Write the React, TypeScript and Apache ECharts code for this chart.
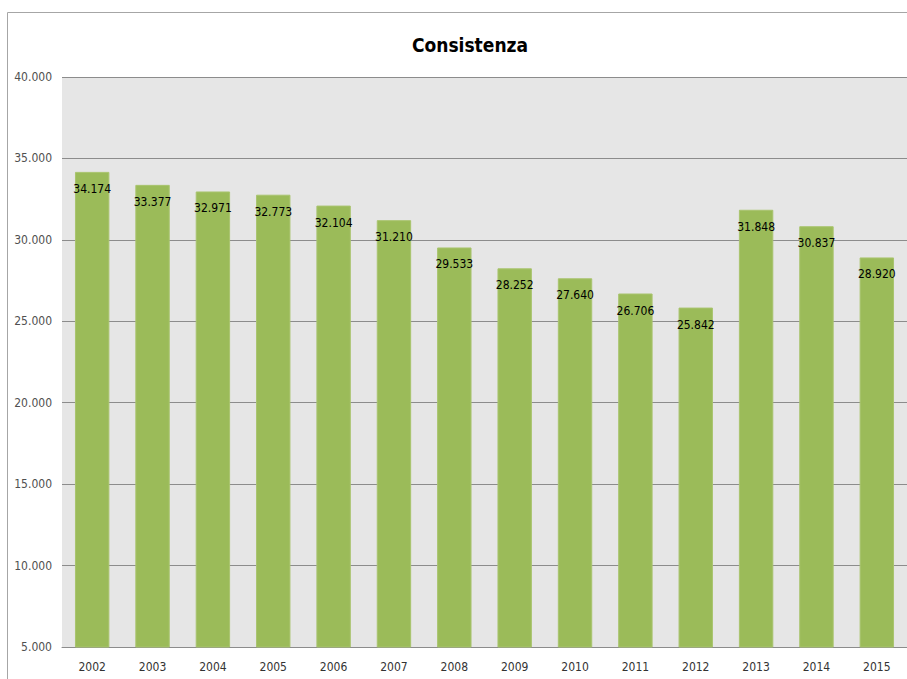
import React, { useEffect, useRef } from "react";
import * as echarts from "echarts";

const categories = ["2002", "2003", "2004", "2005", "2006", "2007", "2008", "2009", "2010", "2011", "2012", "2013", "2014", "2015"];
const values = [34174, 33377, 32971, 32773, 32104, 31210, 29533, 28252, 27640, 26706, 25842, 31848, 30837, 28920];
const titleText = "Consistenza";
const yMin = 5000;
const yMax = 40000;
const yStep = 5000;

const fmt = (v: number) => {
  const s = Math.round(v).toString();
  return s.replace(/\B(?=(\d{3})+(?!\d))/g, ".");
};

const FONT = "'DejaVu Sans Condensed', 'Liberation Sans Narrow', 'Liberation Sans', sans-serif";

export default function App() {
  const ref = useRef<HTMLDivElement>(null);
  useEffect(() => {
    if (!ref.current) return;
    const chart = echarts.init(ref.current, undefined, { renderer: "svg" });
    chart.setOption({
      animation: false,
      backgroundColor: "#ffffff",
      title: {
        text: titleText,
        left: 465,
        top: 30,
        textAlign: "center",
        textStyle: { fontFamily: FONT, fontWeight: "bold", fontSize: 19, color: "#000" },
      },
      graphic: [
        { type: "line", shape: { x1: 7.5, y1: 12.5, x2: 907, y2: 12.5 }, style: { stroke: "#a6a6a6", lineWidth: 1 } },
        { type: "line", shape: { x1: 7.5, y1: 12.5, x2: 7.5, y2: 679 }, style: { stroke: "#a6a6a6", lineWidth: 1 } },
      ],
      grid: {
        left: 62,
        top: 77,
        right: 0,
        bottom: 32,
        show: true,
        backgroundColor: "#e6e6e6",
        borderWidth: 0,
      },
      xAxis: {
        type: "category",
        data: categories,
        axisTick: { show: false },
        axisLine: { show: true, lineStyle: { color: "#8c8c8c", width: 1 } },
        axisLabel: { fontFamily: FONT, fontSize: 12, color: "#333", margin: 14 },
      },
      yAxis: {
        type: "value",
        min: yMin,
        max: yMax,
        interval: yStep,
        axisLine: { show: false },
        axisTick: { show: false },
        splitLine: { show: true, lineStyle: { color: "#8c8c8c", width: 1 } },
        axisLabel: { fontFamily: FONT, fontSize: 12, color: "#505050", margin: 10, formatter: (v: number) => fmt(v) },
      },
      series: [
        {
          type: "bar",
          data: values,
          barCategoryGap: "43%",
          itemStyle: { color: "#9bbb59", borderColor: "#a9c46e", borderWidth: 1 },
          label: {
            show: true,
            position: "insideTop",
            distance: 11,
            fontFamily: FONT,
            fontSize: 12,
            color: "#000",
            formatter: (p: any) => fmt(p.value),
          },
        },
      ],
    });
    return () => chart.dispose();
  }, []);
  return <div ref={ref} style={{ position: "fixed", left: 0, top: 0, width: 907, height: 679 }} />;
}
